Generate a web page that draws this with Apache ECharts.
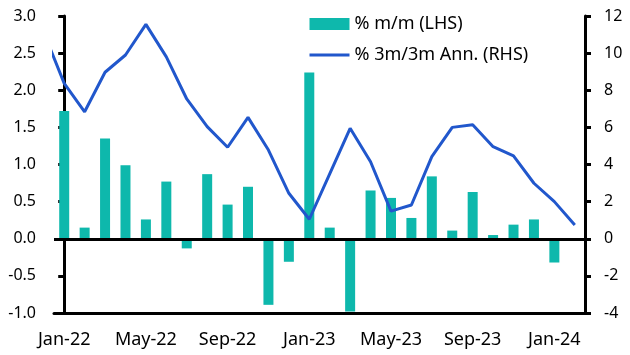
<!DOCTYPE html>
<html><head><meta charset="utf-8">
<script src="https://cdn.jsdelivr.net/npm/echarts@6/dist/echarts.min.js"></script>
<style>html,body{margin:0;padding:0;background:#fff}#c{width:630px;height:355px}</style>
</head><body><div id="c"></div>
<script>
const categories = ["Jan-22","Feb-22","Mar-22","Apr-22","May-22","Jun-22","Jul-22","Aug-22","Sep-22","Oct-22","Nov-22","Dec-22",
  "Jan-23","Feb-23","Mar-23","Apr-23","May-23","Jun-23","Jul-23","Aug-23","Sep-23","Oct-23","Nov-23","Dec-23","Jan-24","Feb-24"];
const momValues = [1.72,0.15,1.35,0.99,0.26,0.77,-0.13,0.87,0.46,0.70,-0.89,-0.31,
  2.24,0.15,-0.98,0.65,0.55,0.28,0.84,0.11,0.63,0.05,0.19,0.26,-0.32,null];
// starts one month earlier (Dec-21), clipped at the left edge
const annPrevMonth = 11.1;
const annValues = [8.37,6.84,8.97,9.9,11.55,9.8,7.53,6.04,4.93,6.54,4.78,2.45,
  1.05,3.5,5.95,4.15,1.49,1.82,4.42,6.0,6.14,4.96,4.46,2.99,2.0,0.74];
const leftTicks = {min:-1, max:3, interval:0.5};
const rightTicks = {min:-4, max:12, interval:2};

const lineData = [[-1, annPrevMonth]].concat(annValues.map((v,i)=>[i,v]));
const font = "Noto Sans";
const chart = echarts.init(document.getElementById('c'));
chart.setOption({
  animation:false,
  textStyle:{fontFamily:font},
  grid:{left:54,right:45,top:16,bottom:42,containLabel:false,outerBoundsMode:'none'},
  legend:{
    left:303, top:10, orient:'vertical', itemGap:13, itemWidth:40, itemHeight:12,
    textStyle:{fontFamily:font,fontSize:18,color:'#000'},
    data:[{name:'% m/m (LHS)',icon:'rect'},
          {name:'% 3m/3m Ann. (RHS)',itemStyle:{opacity:0,borderWidth:0},lineStyle:{color:'#2157CC',width:3,opacity:1}}]
  },
  xAxis:[
    {type:'category',data:categories,boundaryGap:true,
     axisLine:{onZero:false,lineStyle:{color:'#000',width:3}},
     axisTick:{interval:3,length:6,lineStyle:{color:'#000',width:3}},
     axisLabel:{interval:3,color:'#000',fontSize:18,margin:18,fontFamily:font}},
    {type:'value',min:-0.5,max:categories.length-0.5,show:false}
  ],
  yAxis:[
    {type:'value',min:leftTicks.min,max:leftTicks.max,interval:leftTicks.interval,position:'left',
     splitLine:{show:false},
     axisLine:{show:true,lineStyle:{color:'#000',width:3}},
     axisTick:{show:true,length:6,lineStyle:{color:'#000',width:3}},
     axisLabel:{color:'#000',fontSize:16,margin:18,fontFamily:font,formatter:v=>v.toFixed(1)}},
    {type:'value',min:rightTicks.min,max:rightTicks.max,interval:rightTicks.interval,position:'right',
     splitLine:{show:false},
     axisLine:{show:true,lineStyle:{color:'#000',width:3}},
     axisTick:{show:true,length:6,lineStyle:{color:'#000',width:3}},
     axisLabel:{color:'#000',fontSize:16,margin:19,fontFamily:font}}
  ],
  series:[
    {name:'% m/m (LHS)',type:'bar',xAxisIndex:0,yAxisIndex:0,data:momValues,barWidth:10,
     itemStyle:{color:'#0EB8AC'},
     markLine:{silent:true,symbol:'none',label:{show:false},lineStyle:{color:'#000',width:3,type:'solid'},data:[{yAxis:0}]}},
    {name:'% 3m/3m Ann. (RHS)',type:'line',xAxisIndex:1,yAxisIndex:1,data:lineData,
     showSymbol:false,symbol:'none',clip:true,lineStyle:{color:'#2157CC',width:3},itemStyle:{color:'#2157CC'}}
  ]
});
</script></body></html>
